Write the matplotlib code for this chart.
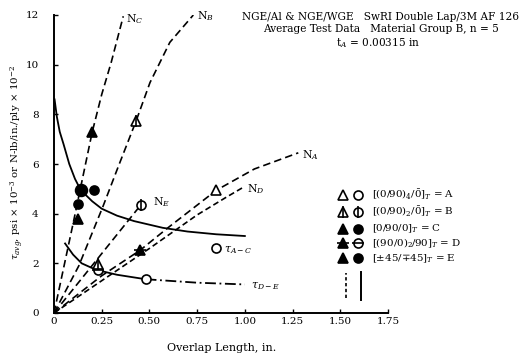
import matplotlib
matplotlib.use("Agg")
import matplotlib.pyplot as plt

plt.rcParams["font.family"] = ["DejaVu Serif"]
plt.rcParams["mathtext.fontset"] = "dejavuserif"

# ---- curve data (overlap length in., value) ----
nc_x = [0.0, 0.10, 0.20, 0.25, 0.30, 0.363]
nc_y = [0.0, 3.6, 7.28, 8.8, 10.1, 11.95]

nb_x = [0.0, 0.13, 0.257, 0.337, 0.43, 0.503, 0.607, 0.73]
nb_y = [0.0, 1.9, 4.3, 5.9, 7.73, 9.28, 10.9, 12.0]

ne_x = [0.0, 0.46]
ne_y = [0.0, 4.4]

na_x = [0.0, 0.25, 0.45, 0.60, 0.85, 1.05, 1.28]
na_y = [0.0, 1.5, 2.52, 3.45, 4.94, 5.8, 6.45]

nd_x = [0.0, 0.25, 0.50, 0.75, 0.90, 1.00]
nd_y = [0.0, 1.3, 2.6, 3.95, 4.65, 5.1]

tac_x = [0.003, 0.015, 0.03, 0.05, 0.08, 0.11, 0.14, 0.20, 0.25, 0.33, 0.42, 0.57, 0.70, 0.85, 1.00]
tac_y = [8.6, 7.9, 7.3, 6.8, 6.0, 5.4, 4.95, 4.5, 4.2, 3.92, 3.7, 3.43, 3.28, 3.17, 3.1]

tde_x = [0.058, 0.10, 0.145, 0.22, 0.33, 0.48]
tde_y = [2.8, 2.35, 2.0, 1.74, 1.54, 1.36]
tde_ext_x = [0.48, 0.75, 1.00]
tde_ext_y = [1.36, 1.22, 1.15]

# ---- test points ----
a_pts = {"N": (0.85, 4.94), "tau": (0.85, 2.61)}
b_pts = {"N": (0.43, 7.73), "tau": (0.455, 4.36)}
c_pts = {"N": (0.20, 7.28), "tau": (0.21, 4.94)}
d_pts = {"N": (0.45, 2.52), "tau": (0.229, 1.74)}
e_pts = {"N": (0.127, 3.8), "tau": (0.124, 4.39)}
extra_filled = (0.14, 4.94)
extra_open = (0.48, 1.36)
extra_b_tri = (0.229, 1.98)

x_ticks = [0, 0.25, 0.50, 0.75, 1.00, 1.25, 1.50, 1.75]
x_tick_labels = ["0", "0.25", "0.50", "0.75", "1.00", "1.25", "1.50", "1.75"]
y_ticks = [0, 2, 4, 6, 8, 10, 12]

legend_labels = [
    r"[(0/90)$_4$/$\bar{0}$]$_T$ = A",
    r"[(0/90)$_2$/$\bar{0}$]$_T$ = B",
    r"[0/90/0]$_T$ = C",
    r"[(90/0)$_2$/90]$_T$ = D",
    r"[$\pm$45/$\mp$45]$_T$ = E",
]

fig = plt.figure(figsize=(5.31, 3.57), dpi=100)
ax = fig.add_axes([54 / 531, 44 / 357, 334 / 531, 298 / 357])

k = "black"
dash = (0, (4.5, 2.5))
lw = 1.2

ax.plot(nc_x, nc_y, color=k, lw=lw, ls=dash)
ax.plot(nb_x, nb_y, color=k, lw=lw, ls=dash)
ax.plot(ne_x, ne_y, color=k, lw=lw, ls=dash)
ax.plot(na_x, na_y, color=k, lw=lw, ls=dash)
ax.plot(nd_x, nd_y, color=k, lw=lw, ls=(0, (3.5, 2)))
ax.plot(tac_x, tac_y, color=k, lw=1.3)
ax.plot(tde_x, tde_y, color=k, lw=1.3)
ax.plot(tde_ext_x, tde_ext_y, color=k, lw=1.3, ls=(0, (6, 2, 1, 2)))

ms = 6.5


def tri(x, y, filled=True, bar=None):
    ax.plot([x], [y], marker="^", ms=ms, mfc=k if filled else "white", mec=k,
            mew=1.2, ls="none", zorder=5, clip_on=False)
    if bar:
        ax.plot([x], [y], marker=bar, ms=ms + 2, mec=k, mew=1.2, ls="none",
                zorder=6, clip_on=False)


def circ(x, y, filled=True, bar=None, size=ms):
    ax.plot([x], [y], marker="o", ms=size, mfc=k if filled else "white", mec=k,
            mew=1.2, ls="none", zorder=5, clip_on=False)
    if bar:
        ax.plot([x], [y], marker=bar, ms=size + 2, mec=k, mew=1.2, ls="none",
                zorder=6, clip_on=False)


tri(*a_pts["N"], filled=False)
circ(*a_pts["tau"], filled=False)
tri(*b_pts["N"], filled=False, bar="|")
circ(*b_pts["tau"], filled=False, bar="|")
tri(*c_pts["N"])
circ(*c_pts["tau"])
tri(*d_pts["N"], bar="_")
circ(*d_pts["tau"], filled=False, bar="_")
tri(*e_pts["N"])
circ(*e_pts["tau"])
circ(*extra_filled, size=8.5)
circ(*extra_open, filled=False)
tri(*extra_b_tri, filled=False, bar="|")

# curve labels
fs = 7.8
ax.text(0.375, 11.85, r"N$_C$", fontsize=fs, va="center")
ax.text(0.75, 11.95, r"N$_B$", fontsize=fs, va="center")
ax.text(1.30, 6.35, r"N$_A$", fontsize=fs, va="center")
ax.text(1.01, 5.0, r"N$_D$", fontsize=fs, va="center")
ax.text(0.52, 4.45, r"N$_E$", fontsize=fs, va="center")
ax.text(0.89, 2.52, r"$\tau_{A-C}$", fontsize=fs, va="center")
ax.text(1.03, 1.08, r"$\tau_{D-E}$", fontsize=fs, va="center")

# legend block
leg_y = [4.76, 4.08, 3.39, 2.81, 2.2]
tri(1.513, leg_y[0], filled=False)
circ(1.592, leg_y[0], filled=False)
tri(1.513, leg_y[1], filled=False, bar="|")
circ(1.592, leg_y[1], filled=False, bar="|")
tri(1.513, leg_y[2])
circ(1.592, leg_y[2])
tri(1.513, leg_y[3], bar="_")
circ(1.592, leg_y[3], filled=False, bar="_")
tri(1.513, leg_y[4])
circ(1.592, leg_y[4])
for yy, lab in zip(leg_y, legend_labels):
    ax.text(1.665, yy, lab, fontsize=7.4, va="center")

# vertical markers near 1.5 in.
ax.plot([1.53, 1.53], [0.6, 1.6], color=k, lw=1.2, ls=(0, (2, 1.5)))
ax.plot([1.607, 1.607], [0.53, 1.66], color=k, lw=1.4)

ax.set_xlim(0, 1.75)
ax.set_ylim(0, 12)
ax.set_xticks(x_ticks)
ax.set_xticklabels(x_tick_labels)
ax.set_yticks(y_ticks)
ax.tick_params(direction="in", length=3, labelsize=7.5, width=1)
ax.tick_params(axis="x", pad=3)
ax.tick_params(axis="y", pad=11)
for s in ("top", "right"):
    ax.spines[s].set_visible(False)
for s in ("left", "bottom"):
    ax.spines[s].set_linewidth(1.4)

fig.text(222 / 531, 1 - 348 / 357, "Overlap Length, in.", fontsize=8,
         ha="center", va="center")
fig.text(17 / 531, 1 - 162 / 357,
         r"$\tau_{avg}$, psi × 10$^{-3}$ or N-lb/in./ply × 10$^{-2}$",
         fontsize=7.4, rotation=90, ha="center", va="center")

fig.text(381 / 531, 1 - 17 / 357, "NGE/Al & NGE/WGE   SwRI Double Lap/3M AF 126",
         fontsize=7.6, ha="center", va="center")
fig.text(381 / 531, 1 - 29 / 357, "Average Test Data   Material Group B, n = 5",
         fontsize=7.6, ha="center", va="center")
fig.text(378 / 531, 1 - 43 / 357, r"t$_A$ = 0.00315 in",
         fontsize=7.6, ha="center", va="center")

fig.savefig("out.png", dpi=100)
